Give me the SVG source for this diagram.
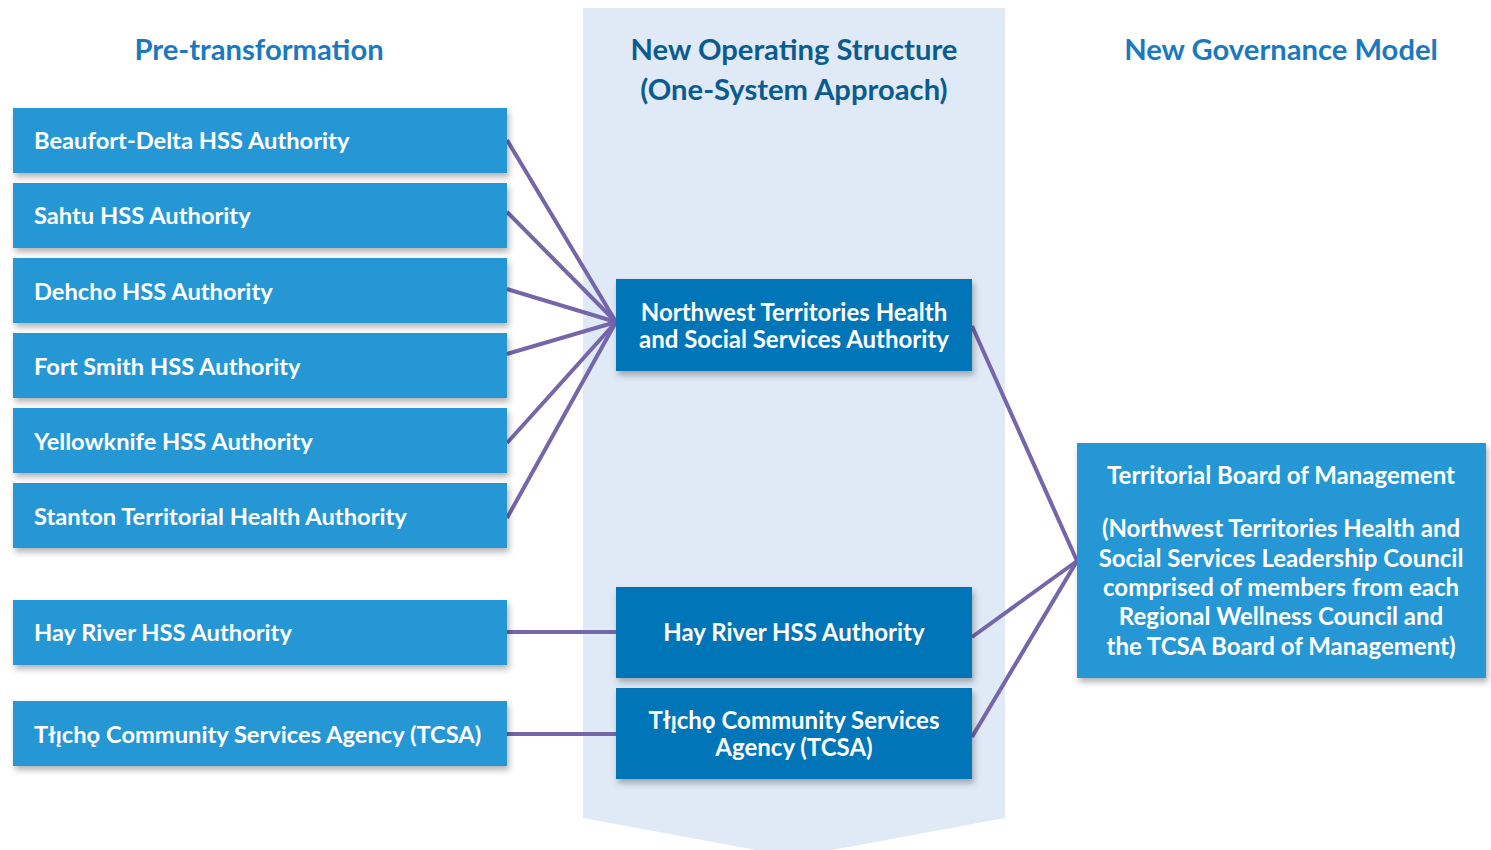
<svg xmlns="http://www.w3.org/2000/svg" width="1491" height="850" viewBox="0 0 1491 850">
  <defs>
    <filter id="shadow" x="-10%" y="-20%" width="120%" height="150%">
      <feDropShadow dx="2" dy="4" stdDeviation="3" flood-color="#000" flood-opacity="0.3"/>
    </filter>
    <style>
      .hdr { font-family: Lato, "Open Sans", "Liberation Sans", sans-serif; font-weight: 700; font-size: 29.2px; text-anchor: middle; }
      .hdr-side { fill: #1b79bf; }
      .hdr-mid { fill: #0c5b8e; }
      .box-light { fill: #2597d5; filter: url(#shadow); }
      .box-dark { fill: #0075b8; filter: url(#shadow); }
      .lbl { font-family: Lato, "Open Sans", "Liberation Sans", sans-serif; font-weight: 700; font-size: 24px; fill: #ffffff; }
      .lbl-left { font-size: 23.7px; }
      .mid { text-anchor: middle; }
      .link { stroke: #7565a9; stroke-width: 4; fill: none; stroke-linecap: butt; }
    </style>
  </defs>

  <rect width="1491" height="850" fill="#ffffff"/>

  <!-- centre column band with chevron bottom -->
  <polygon points="583,8 1005,8 1005,818 794,857 583,818" fill="#dfeaf6"/>

  <!-- column headings -->
  <g id="headings">
    <text class="hdr hdr-side" x="259" y="60">Pre-transformation</text>
    <text class="hdr hdr-mid" x="794" y="60">New Operating Structure</text>
    <text class="hdr hdr-mid" x="794" y="100">(One-System Approach)</text>
    <text class="hdr hdr-side" x="1281" y="60">New Governance Model</text>
  </g>

  <!-- connectors -->
  <g id="connectors">
    <line class="link" x1="507" y1="140" x2="616" y2="322"/>
    <line class="link" x1="507" y1="212" x2="616" y2="322"/>
    <line class="link" x1="507" y1="289" x2="616" y2="322"/>
    <line class="link" x1="507" y1="354" x2="616" y2="322"/>
    <line class="link" x1="507" y1="443" x2="616" y2="322"/>
    <line class="link" x1="507" y1="518" x2="616" y2="322"/>
    <line class="link" x1="507" y1="632" x2="616" y2="632"/>
    <line class="link" x1="507" y1="734" x2="616" y2="734"/>
    <line class="link" x1="972" y1="326" x2="1077" y2="561"/>
    <line class="link" x1="972" y1="637" x2="1077" y2="561"/>
    <line class="link" x1="972" y1="737" x2="1077" y2="561"/>
  </g>

  <!-- pre-transformation authorities -->
  <g id="beaufort-delta">
    <rect class="box-light" x="13" y="108" width="494" height="65"/>
    <text class="lbl lbl-left" x="34" y="149">Beaufort-Delta HSS Authority</text>
  </g>
  <g id="sahtu">
    <rect class="box-light" x="13" y="183" width="494" height="65"/>
    <text class="lbl lbl-left" x="34" y="224">Sahtu HSS Authority</text>
  </g>
  <g id="dehcho">
    <rect class="box-light" x="13" y="258" width="494" height="65"/>
    <text class="lbl lbl-left" x="34" y="300">Dehcho HSS Authority</text>
  </g>
  <g id="fort-smith">
    <rect class="box-light" x="13" y="333" width="494" height="65"/>
    <text class="lbl lbl-left" x="34" y="375">Fort Smith HSS Authority</text>
  </g>
  <g id="yellowknife">
    <rect class="box-light" x="13" y="408" width="494" height="65"/>
    <text class="lbl lbl-left" x="34" y="450">Yellowknife HSS Authority</text>
  </g>
  <g id="stanton">
    <rect class="box-light" x="13" y="483" width="494" height="65"/>
    <text class="lbl lbl-left" x="34" y="525">Stanton Territorial Health Authority</text>
  </g>
  <g id="hay-river-pre">
    <rect class="box-light" x="13" y="600" width="494" height="65"/>
    <text class="lbl lbl-left" x="34" y="641">Hay River HSS Authority</text>
  </g>
  <g id="tcsa-pre">
    <rect class="box-light" x="13" y="701" width="494" height="65"/>
    <text class="lbl lbl-left" x="34" y="743">Tłı̨chǫ Community Services Agency (TCSA)</text>
  </g>

  <!-- new operating structure -->
  <g id="nwthssa">
    <rect class="box-dark" x="616" y="279" width="356" height="92"/>
    <text class="lbl mid" x="794" y="321">Northwest Territories Health</text>
    <text class="lbl mid" x="794" y="348">and Social Services Authority</text>
  </g>
  <g id="hay-river-new">
    <rect class="box-dark" x="616" y="587" width="356" height="91"/>
    <text class="lbl mid" x="794" y="641">Hay River HSS Authority</text>
  </g>
  <g id="tcsa-new">
    <rect class="box-dark" x="616" y="688" width="356" height="91"/>
    <text class="lbl mid" x="794" y="729">Tłı̨chǫ Community Services</text>
    <text class="lbl mid" x="794" y="756">Agency (TCSA)</text>
  </g>

  <!-- governance model -->
  <g id="territorial-board">
    <rect class="box-light" x="1077" y="443" width="409" height="235"/>
    <text class="lbl mid" x="1281" y="484">Territorial Board of Management</text>
    <text class="lbl mid" x="1281" y="537">(Northwest Territories Health and</text>
    <text class="lbl mid" x="1281" y="567">Social Services Leadership Council</text>
    <text class="lbl mid" x="1281" y="596">comprised of members from each</text>
    <text class="lbl mid" x="1281" y="625">Regional Wellness Council and</text>
    <text class="lbl mid" x="1281" y="655">the TCSA Board of Management)</text>
  </g>
</svg>
